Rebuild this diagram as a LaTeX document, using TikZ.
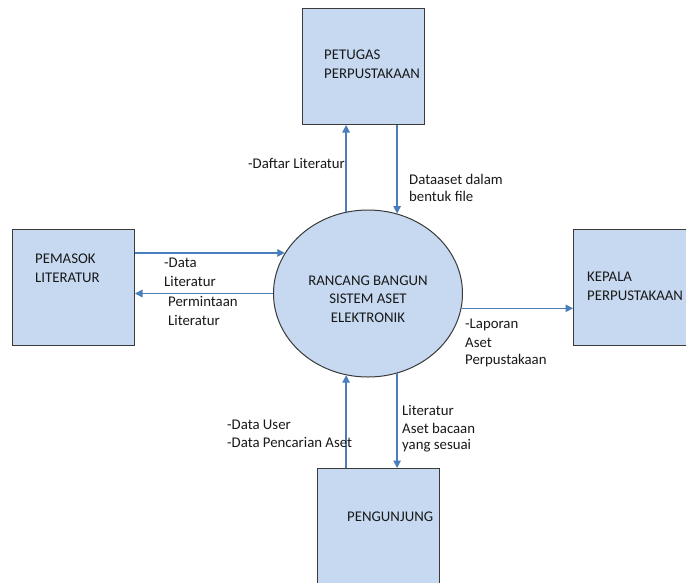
\documentclass[tikz,border=0pt]{standalone}
\usepackage{fontspec}
\setmainfont{Carlito}
\usetikzlibrary{shapes.geometric,arrows.meta}
\definecolor{boxfill}{HTML}{C6D9F1}
\definecolor{boxline}{HTML}{3A3A3A}
\definecolor{flow}{HTML}{4A7EBB}
\tikzset{
  entity/.style={draw=boxline, fill=boxfill, line width=1pt, rectangle, inner sep=0pt, anchor=north west},
  proc/.style={draw=boxline, fill=boxfill, line width=1pt, ellipse, inner sep=0pt, minimum width=189pt, minimum height=167pt},
  txt/.style={anchor=base west, inner sep=0pt, font=\fontsize{14.8}{18}\selectfont, text=black!90},
  ctxt/.style={anchor=base, inner sep=0pt, font=\fontsize{14.8}{18}\selectfont, text=black!90},
  flowline/.style={draw=flow, line width=1.3pt, -{Triangle[length=7.5pt,width=7.5pt]}}
}
\begin{document}
\begin{tikzpicture}[x=1pt,y=-1pt]
\useasboundingbox (0,0) rectangle (686,582);
\clip (0,0) rectangle (686,582);
\fill[white] (0,0) rectangle (686,582);
% entities
\node[entity, minimum width=122pt, minimum height=116pt] (petugas) at (302,8) {};
\node[entity, minimum width=122pt, minimum height=116pt] (pemasok) at (12,229) {};
\node[entity, minimum width=124pt, minimum height=116pt] (kepala) at (573,229) {};
\node[entity, minimum width=122pt, minimum height=124pt] (pengunjung) at (317,468) {};
\node[proc] (sys) at (368,293.5) {};
% entity texts
\node[txt] (t1) at (324,59) {PETUGAS};
\node[txt] (t2) at (324,78) {PERPUSTAKAAN};
\node[txt] (t3) at (35,263) {PEMASOK};
\node[txt] (t4) at (35,282) {LITERATUR};
\node[txt] (t5) at (587,281) {KEPALA};
\node[txt] (t6) at (587,300) {PERPUSTAKAAN};
\node[txt] (t7) at (347,521.5) {PENGUNJUNG};
\node[ctxt] (c1) at (368,285) {RANCANG BANGUN};
\node[ctxt] (c2) at (368,303.5) {SISTEM ASET};
\node[ctxt] (c3) at (368,322) {ELEKTRONIK};
% flows
\draw[flowline] (sys.105.5) -- (sys.105.5 |- petugas.south);
\draw[flowline] (sys.70.3 |- petugas.south) -- (sys.70.3);
\draw[flowline] (sys.154.5 -| pemasok.east) -- (sys.154.5);
\draw[flowline] (sys.180.5) -- (sys.180.5 -| pemasok.east);
\draw[flowline] (sys.-9.8) -- (sys.-9.8 -| kepala.west);
\draw[flowline] (sys.-105.5 |- pengunjung.north) -- (sys.-105.5);
\draw[flowline] (sys.-70.3) -- (sys.-70.3 |- pengunjung.north);
% flow labels
\node[txt] (l1) at (248,168) {-Daftar Literatur};
\node[txt] (l2) at (409,184) {Dataaset dalam};
\node[txt] (l3) at (409,201) {bentuk file};
\node[txt] (l4) at (164,267.5) {-Data};
\node[txt] (l5) at (164,286) {Literatur};
\node[txt] (l6) at (168,306.5) {Permintaan};
\node[txt] (l7) at (168,325) {Literatur};
\node[txt] (l8) at (465,328) {-Laporan};
\node[txt] (l9) at (465,347) {Aset};
\node[txt] (l10) at (465,364) {Perpustakaan};
\node[txt] (l11) at (227,429) {-Data User};
\node[txt] (l12) at (227,447) {-Data Pencarian Aset};
\node[txt] (l13) at (402,415) {Literatur};
\node[txt] (l14) at (402,433) {Aset bacaan};
\node[txt] (l15) at (402,449) {yang sesuai};
\end{tikzpicture}
\end{document}
